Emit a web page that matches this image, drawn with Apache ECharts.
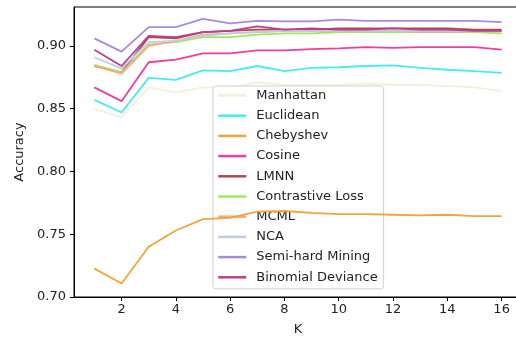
<!DOCTYPE html>
<html>
<head>
<meta charset="utf-8">
<script src="https://cdn.jsdelivr.net/npm/echarts@6/dist/echarts.min.js"></script>
<style>html,body{margin:0;padding:0;background:#fff}#c{width:516px;height:339px}</style>
</head>
<body>
<div id="c"></div>
<script>
const K = [1,2,3,4,5,6,7,8,9,10,11,12,13,14,15,16];
const xTicks = [2,4,6,8,10,12,14,16];
const yTicks = [0.70,0.75,0.80,0.85,0.90];
const seriesNames = ['Manhattan','Euclidean','Chebyshev','Cosine','LMNN','Contrastive Loss','MCML','NCA','Semi-hard Mining','Binomial Deviance'];
const manhattan   = [0.850,0.843,0.867,0.863,0.867,0.867,0.871,0.869,0.869,0.869,0.870,0.869,0.869,0.868,0.867,0.864];
const euclidean   = [0.857,0.847,0.8745,0.873,0.8805,0.880,0.884,0.880,0.8825,0.883,0.884,0.8845,0.8825,0.881,0.880,0.8785];
const chebyshev   = [0.7226,0.7107,0.740,0.753,0.762,0.763,0.768,0.7685,0.767,0.766,0.766,0.7655,0.765,0.7655,0.7645,0.7645];
const cosine      = [0.867,0.856,0.887,0.889,0.894,0.894,0.8965,0.8965,0.8975,0.898,0.899,0.8985,0.899,0.899,0.899,0.897];
const lmnn        = [0.884,0.879,0.907,0.906,0.911,0.912,0.913,0.913,0.913,0.914,0.914,0.914,0.914,0.914,0.913,0.913];
const contrastive = [0.885,0.879,0.901,0.903,0.907,0.907,0.909,0.910,0.910,0.911,0.911,0.911,0.911,0.911,0.911,0.910];
const mcml        = [0.884,0.878,0.900,0.904,0.909,0.910,0.911,0.912,0.912,0.912,0.912,0.912,0.911,0.911,0.912,0.912];
const nca         = [0.891,0.882,0.903,0.904,0.908,0.910,0.911,0.912,0.912,0.912,0.912,0.912,0.912,0.912,0.912,0.912];
const semihard    = [0.906,0.8955,0.915,0.915,0.9215,0.918,0.920,0.9195,0.9195,0.921,0.920,0.920,0.920,0.920,0.920,0.919];
const binomial    = [0.897,0.884,0.908,0.907,0.911,0.912,0.9155,0.913,0.914,0.913,0.913,0.914,0.913,0.913,0.912,0.912];
const values = [manhattan,euclidean,chebyshev,cosine,lmnn,contrastive,mcml,nca,semihard,binomial];
const colors = ['#f3efdc','#45ecf2','#f4a23c','#ec3f9e','#b04a4a','#a0e85a','#f8a888','#bccde3','#a58ae0','#b8408f'];

const chart = echarts.init(document.getElementById('c'));
const font = 'DejaVu Sans';
chart.setOption({
  animation: false,
  textStyle: {fontFamily: font},
  grid: {left: 74, top: 7, width: 448, height: 290, outerBoundsMode: 'none', containLabel: false,
    show: true, borderColor: '#000', borderWidth: 1, backgroundColor: 'transparent'},
  xAxis: {
    type: 'value', min: 0.25, max: 16.75,
    name: 'K', nameLocation: 'middle', nameGap: 26,
    nameTextStyle: {fontSize: 13, color: '#222', fontFamily: font},
    axisLine: {lineStyle: {color: '#000', width: 1}},
    axisTick: {show: true, length: 4, customValues: xTicks, lineStyle: {color: '#000'}},
    axisLabel: {customValues: xTicks, fontSize: 13, color: '#222', margin: 6, fontFamily: font},
    splitLine: {show: false}
  },
  yAxis: {
    type: 'value', min: 0.70, max: 0.931,
    name: 'Accuracy', nameLocation: 'middle', nameGap: 43,
    nameTextStyle: {fontSize: 13, color: '#222', fontFamily: font},
    axisLine: {show: true, lineStyle: {color: '#000', width: 1}},
    axisTick: {show: true, length: 4, customValues: yTicks, lineStyle: {color: '#000'}},
    axisLabel: {customValues: yTicks, fontSize: 13, color: '#222', margin: 8, fontFamily: font,
      formatter: v => v.toFixed(2)},
    splitLine: {show: false}
  },
  legend: {
    orient: 'vertical', left: 213, top: 86,
    data: seriesNames,
    itemWidth: 28, itemHeight: 14, itemGap: 7.2,
    padding: [3, 6, 5, 4],
    backgroundColor: 'rgba(255,255,255,0.8)',
    borderColor: '#d0d0d0', borderWidth: 1, borderRadius: 3,
    itemStyle: {opacity: 0},
    lineStyle: {width: 2.5},
    textStyle: {fontSize: 13, color: '#222', fontFamily: font, padding: [0,0,0,5]}
  },
  series: seriesNames.map((n, i) => ({
    name: n, type: 'line', symbol: 'none', z: 2 + i,
    data: K.map((k, j) => [k, values[i][j]]),
    lineStyle: {color: colors[i], width: 1.8},
    itemStyle: {color: colors[i]}
  }))
});
</script>
</body>
</html>
